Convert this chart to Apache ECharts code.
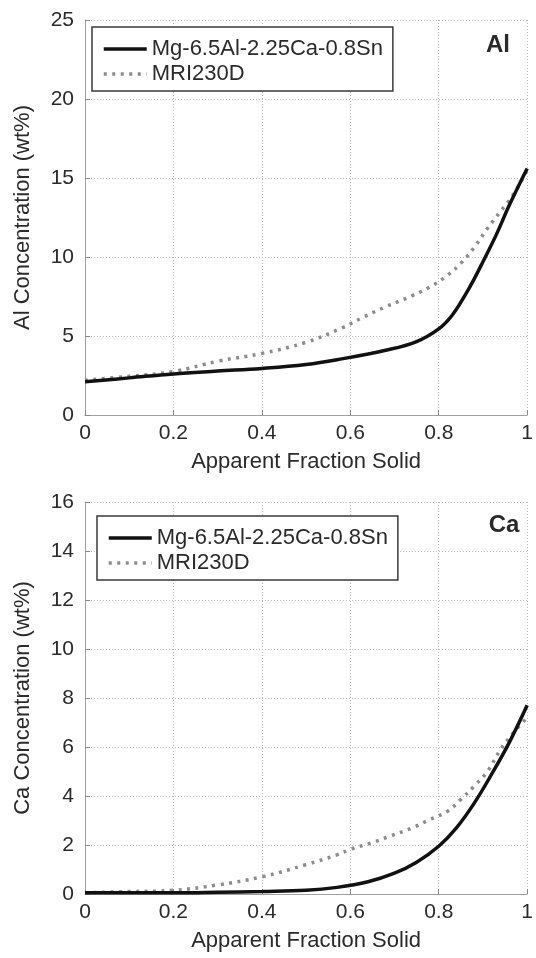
<!DOCTYPE html>
<html>
<head>
<meta charset="utf-8">
<script src="https://cdn.jsdelivr.net/npm/echarts@6/dist/echarts.min.js"></script>
<style>
  html, body { margin: 0; padding: 0; background: #fff; }
  #chart { width: 536px; height: 958px; }
</style>
</head>
<body>
<div id="chart"></div>
<script>
// Al panel: apparent fraction solid (x) and Al concentration (wt%)
const fsAlAlloy = [0, 0.1, 0.2, 0.3, 0.4, 0.5, 0.57, 0.68, 0.75, 0.8, 0.83, 0.86, 0.88, 0.9, 0.93, 0.96, 1.0]
const alAlloy = [2.1, 2.35, 2.6, 2.78, 2.95, 3.2, 3.5, 4.1, 4.65, 5.45, 6.3, 7.6, 8.6, 9.7, 11.4, 13.3, 15.6]
const fsAlMri = [0, 0.1, 0.2, 0.3, 0.4, 0.5, 0.58, 0.63, 0.68, 0.74, 0.78, 0.82, 0.85, 0.88, 0.91, 0.94, 0.97, 1.0]
const alMri = [2.2, 2.45, 2.75, 3.4, 3.9, 4.6, 5.5, 6.2, 6.85, 7.55, 8.1, 8.85, 9.6, 10.6, 11.8, 12.9, 14.0, 15.5]

// Ca panel: apparent fraction solid (x) and Ca concentration (wt%)
const fsCaAlloy = [0, 0.1, 0.2, 0.3, 0.4, 0.5, 0.57, 0.64, 0.7, 0.75, 0.8, 0.84, 0.88, 0.92, 0.96, 1.0]
const caAlloy = [0.05, 0.05, 0.05, 0.07, 0.1, 0.15, 0.27, 0.5, 0.85, 1.3, 1.95, 2.7, 3.7, 4.9, 6.2, 7.7]
const fsCaMri = [0, 0.1, 0.2, 0.3, 0.4, 0.5, 0.57, 0.6, 0.65, 0.69, 0.74, 0.78, 0.82, 0.85, 0.88, 0.91, 0.94, 0.97, 1.0]
const caMri = [0.05, 0.1, 0.15, 0.37, 0.7, 1.2, 1.6, 1.82, 2.1, 2.36, 2.7, 3.04, 3.38, 3.86, 4.4, 5.0, 5.9, 6.6, 7.2]

const xTicks = [0, 0.2, 0.4, 0.6, 0.8, 1]
const alTicks = [0, 5, 10, 15, 20, 25]
const caTicks = [0, 2, 4, 6, 8, 10, 12, 14, 16]

const nameAlloy = 'Mg-6.5Al-2.25Ca-0.8Sn'
const nameMri = 'MRI230D'
const font = 'Liberation Sans'
const ink = '#2a2a2a'

const zip = (xs, ys) => xs.map((x, i) => [x, ys[i]])

const gridLine = { show: true, lineStyle: { color: '#b8b8b8', type: [1, 2], width: 1 } }

function xAxis (gridIndex) {
  return {
    type: 'value',
    gridIndex: gridIndex,
    min: xTicks[0],
    max: xTicks[xTicks.length - 1],
    interval: 0.2,
    name: 'Apparent Fraction Solid',
    nameLocation: 'middle',
    nameGap: 36,
    nameTextStyle: { fontFamily: font, fontSize: 22, color: ink },
    axisLine: { show: true, lineStyle: { color: '#a0a0a0', width: 1 } },
    axisTick: { show: true, inside: true, length: 5, lineStyle: { color: '#888' } },
    axisLabel: { fontFamily: font, fontSize: 21, color: ink, margin: 8 },
    splitLine: gridLine
  }
}

function yAxis (gridIndex, ticks, name) {
  return {
    type: 'value',
    gridIndex: gridIndex,
    min: ticks[0],
    max: ticks[ticks.length - 1],
    interval: ticks[1] - ticks[0],
    name: name,
    nameLocation: 'middle',
    nameGap: 51,
    nameTextStyle: { fontFamily: font, fontSize: 22, color: ink },
    axisLine: { show: true, lineStyle: { color: '#a0a0a0', width: 1 } },
    axisTick: { show: true, inside: true, length: 5, lineStyle: { color: '#888' } },
    axisLabel: { fontFamily: font, fontSize: 21, color: ink, margin: 11 },
    splitLine: gridLine
  }
}

function legend (left, top) {
  return {
    data: [nameAlloy, nameMri],
    orient: 'vertical',
    left: left,
    top: top,
    padding: [11, 10, 6, 10],
    itemGap: 3,
    itemWidth: 43,
    itemHeight: 14,
    borderColor: '#3a3a3a',
    borderWidth: 1.5,
    borderRadius: 0,
    backgroundColor: '#fff',
    itemStyle: { opacity: 0 },
    lineStyle: { width: 3.5 },
    textStyle: { fontFamily: font, fontSize: 22, color: ink }
  }
}

const solidStyle = { color: '#111', width: 3.5, type: 'solid' }
const dotStyle = { color: '#8c8c8c', width: 3.5, type: [3, 5.5] }

function series (name, xs, ys, idx, style) {
  return {
    name: name,
    type: 'line',
    xAxisIndex: idx,
    yAxisIndex: idx,
    data: zip(xs, ys),
    smooth: 0.4,
    symbol: 'none',
    lineStyle: style,
    itemStyle: { color: style.color },
    z: style.type === 'solid' ? 3 : 2
  }
}

function panelLabel (text, x, y) {
  return {
    type: 'text',
    x: x,
    y: y,
    style: {
      text: text,
      fontFamily: font,
      fontSize: 24,
      fontWeight: 'bold',
      fill: ink,
      align: 'center',
      verticalAlign: 'middle'
    }
  }
}

const chart = echarts.init(document.getElementById('chart'))
chart.setOption({
  animation: false,
  backgroundColor: '#fff',
  legend: [legend(92, 27), legend(97, 516)],
  graphic: [panelLabel('Al', 498, 45), panelLabel('Ca', 504, 525)],
  grid: [
    { left: 85, top: 20, width: 450, height: 395 },
    { left: 85, top: 502, width: 450, height: 392 }
  ],
  xAxis: [xAxis(0), xAxis(1)],
  yAxis: [
    yAxis(0, alTicks, 'Al Concentration (wt%)'),
    yAxis(1, caTicks, 'Ca Concentration (wt%)')
  ],
  series: [
    series(nameAlloy, fsAlAlloy, alAlloy, 0, solidStyle),
    series(nameMri, fsAlMri, alMri, 0, dotStyle),
    series(nameAlloy, fsCaAlloy, caAlloy, 1, solidStyle),
    series(nameMri, fsCaMri, caMri, 1, dotStyle)
  ]
})
</script>
</body>
</html>
